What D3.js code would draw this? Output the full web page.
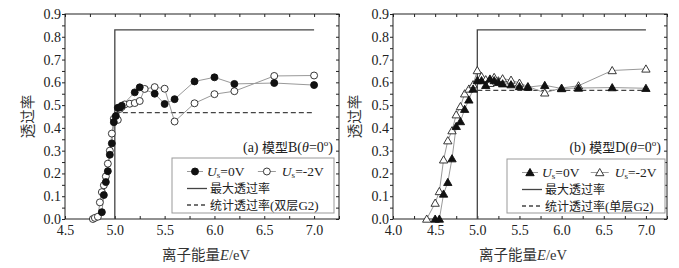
<!DOCTYPE html>
<html><head><meta charset="utf-8">
<script src="https://cdn.jsdelivr.net/npm/d3@7/dist/d3.min.js"></script>
<style>
body{margin:0;background:#fff;}
text{font-family:"Liberation Serif","Times New Roman",serif;}
.cjk{font-family:"Noto Sans CJK SC",sans-serif;}
</style></head>
<body>
<svg id="chart" width="679" height="268"></svg>
<script>
// Panel (a): 模型B
const aE_0V = [4.87,4.89,4.91,4.93,4.95,4.97,4.99,5.01,5.03,5.05,5.07,5.20,5.25,5.40,5.50,5.60,5.80,6.00,6.20,6.60,7.00];
const aT_0V = [0.03,0.105,0.162,0.21,0.282,0.332,0.425,0.452,0.488,0.49,0.497,0.556,0.578,0.55,0.505,0.526,0.604,0.622,0.593,0.597,0.588];
const aE_2V = [4.78,4.80,4.83,4.85,4.87,4.89,4.91,4.93,4.95,4.97,4.99,5.01,5.03,5.05,5.07,5.10,5.15,5.20,5.25,5.30,5.40,5.50,5.60,5.80,6.00,6.20,6.60,7.00];
const aT_2V = [0.0,0.005,0.01,0.073,0.118,0.148,0.187,0.243,0.30,0.375,0.44,0.445,0.435,0.483,0.492,0.503,0.506,0.509,0.518,0.571,0.579,0.572,0.428,0.508,0.548,0.561,0.628,0.63];
const aMaxT = 0.83, aStatT = 0.467;
// Panel (b): 模型D
const bE_0V = [4.50,4.55,4.60,4.65,4.70,4.75,4.80,4.85,4.90,4.95,5.00,5.05,5.10,5.15,5.20,5.25,5.30,5.40,5.50,5.60,5.80,6.00,6.20,6.60,7.00];
const bT_0V = [0.0,0.0,0.11,0.161,0.265,0.407,0.428,0.482,0.523,0.571,0.608,0.608,0.587,0.615,0.608,0.60,0.594,0.59,0.582,0.579,0.587,0.573,0.575,0.577,0.574];
const bE_2V = [4.40,4.50,4.55,4.60,4.65,4.70,4.75,4.80,4.85,4.90,4.95,5.00,5.05,5.10,5.15,5.20,5.25,5.30,5.40,5.50,5.60,5.80,6.00,6.20,6.60,7.00];
const bT_2V = [0.0,0.07,0.121,0.26,0.344,0.388,0.458,0.494,0.55,0.571,0.59,0.652,0.626,0.612,0.596,0.622,0.607,0.616,0.61,0.597,0.582,0.554,0.575,0.585,0.652,0.659];
const bMaxT = 0.83, bStatT = 0.565;
const yTicks = [0.0,0.1,0.2,0.3,0.4,0.5,0.6,0.7,0.8,0.9];
const aXTicks = [4.5,5.0,5.5,6.0,6.5,7.0];
const bXTicks = [4.0,4.5,5.0,5.5,6.0,6.5,7.0];

const svg = d3.select("#chart");

function panel(o){
  const g = svg.append("g");
  const x = d3.scaleLinear().domain(o.xd).range([o.l,o.r]);
  const y = d3.scaleLinear().domain([0,0.9]).range([o.b,o.t]);
  const ptsA = o.e0.map((e,i)=>[e,o.t0[i]]);
  const ptsB = o.e2.map((e,i)=>[e,o.t2[i]]);
  const line = d3.line().x(d=>x(d[0])).y(d=>y(d[1]));
  const xMinor = d3.range(o.xd[0], 7.2501, 0.25);
  const yMinor = d3.range(0, 0.9001, 0.05);
  const bottom = g.append("g").attr("transform",`translate(0,${o.b})`)
    .call(d3.axisBottom(x).tickValues(o.xticks).tickFormat(d3.format(".1f")).tickSizeInner(0).tickSizeOuter(0).tickPadding(6));
  bottom.select(".domain").remove();
  bottom.selectAll("text").attr("font-size",14).attr("font-family","Liberation Serif").attr("fill","#222");
  const bt = g.append("g").attr("transform",`translate(0,${o.b})`).call(d3.axisTop(x).tickValues(xMinor).tickFormat("").tickSizeInner(3).tickSizeOuter(0));
  bt.select(".domain").remove();
  const tt = g.append("g").attr("transform",`translate(0,${o.t})`).call(d3.axisBottom(x).tickValues(xMinor).tickFormat("").tickSizeInner(3).tickSizeOuter(0));
  tt.select(".domain").remove();
  const left = g.append("g").attr("transform",`translate(${o.l},0)`)
    .call(d3.axisLeft(y).tickValues(yTicks).tickFormat(d3.format(".1f")).tickSizeInner(0).tickSizeOuter(0).tickPadding(4));
  left.select(".domain").remove();
  left.selectAll("text").attr("font-size",14).attr("font-family","Liberation Serif").attr("fill","#222");
  const lt = g.append("g").attr("transform",`translate(${o.l},0)`).call(d3.axisLeft(y).tickValues(yMinor).tickFormat("").tickSizeInner(3).tickSizeOuter(0));
  lt.select(".domain").remove();
  const rt = g.append("g").attr("transform",`translate(${o.r},0)`).call(d3.axisLeft(y).tickValues(yMinor).tickFormat("").tickSizeInner(3).tickSizeOuter(0));
  rt.select(".domain").remove();
  g.selectAll(".tick line").attr("stroke","#222");
  g.append("rect").attr("x",o.l).attr("y",o.t).attr("width",o.r-o.l).attr("height",o.b-o.t)
    .attr("fill","none").attr("stroke","#222").attr("stroke-width",1);
  g.append("path").attr("d",line([[5.0,0],[5.0,o.maxT],[7.0,o.maxT]]))
    .attr("fill","none").attr("stroke","#444").attr("stroke-width",1.3);
  g.append("path").attr("d",line([[5.0,o.statT],[7.0,o.statT]]))
    .attr("fill","none").attr("stroke","#444").attr("stroke-width",1.3).attr("stroke-dasharray","5,3");
  g.append("path").attr("d",line(ptsB)).attr("fill","none").attr("stroke","#999").attr("stroke-width",1);
  g.append("path").attr("d",line(ptsA)).attr("fill","none").attr("stroke","#999").attr("stroke-width",1);
  const sym = o.tri ? d3.symbol().type(d3.symbolTriangle).size(30) : d3.symbol().type(d3.symbolCircle).size(38);
  const dy = o.tri ? 0.8 : 0;
  g.selectAll(".mB").data(ptsB).join("path").attr("d",sym)
    .attr("transform",d=>`translate(${x(d[0])},${y(d[1])+dy})`)
    .attr("fill","#fff").attr("stroke","#222").attr("stroke-width",0.9);
  g.selectAll(".mA").data(ptsA).join("path").attr("d",sym)
    .attr("transform",d=>`translate(${x(d[0])},${y(d[1])+dy})`)
    .attr("fill","#111").attr("stroke","#111").attr("stroke-width",0.9);
  g.append("text").attr("class","cjk").attr("transform",`translate(${o.yTitleX},${(o.t+o.b)/2}) rotate(-90)`)
    .attr("text-anchor","middle").attr("dy","0.35em").attr("font-size",14.5).attr("fill","#333").text("透过率");
  const xtitle = g.append("text").attr("x",(o.l+o.r)/2+o.xTitleDx).attr("y",260).attr("text-anchor","middle").attr("font-size",14.5).attr("fill","#333");
  xtitle.append("tspan").attr("class","cjk").text("离子能量");
  xtitle.append("tspan").attr("font-style","italic").attr("font-family","Liberation Serif").text("E");
  xtitle.append("tspan").attr("font-family","Liberation Serif").text("/eV");
  const an = g.append("text").attr("x",o.r-6).attr("y",152).attr("text-anchor","end").attr("font-size",14).attr("fill","#222");
  an.append("tspan").text(o.tag+" ");
  an.append("tspan").attr("class","cjk").attr("font-size",13).text("模型");
  an.append("tspan").text(o.model+"(");
  an.append("tspan").attr("font-style","italic").text("θ");
  an.append("tspan").text("=0");
  an.append("tspan").attr("font-size",9).attr("dy",-6).text("o");
  an.append("tspan").attr("dy",6).text(")");
  const L = o.leg;
  g.append("rect").attr("x",L.x).attr("y",L.y).attr("width",L.w).attr("height",L.h)
    .attr("fill","#fff").attr("stroke","#999").attr("stroke-width",1);
  const r1 = L.y+13.5, r2 = L.y+30.5, r3 = L.y+47;
  const lx = L.x+15;
  g.append("line").attr("x1",lx).attr("x2",lx+16).attr("y1",r1).attr("y2",r1).attr("stroke","#999");
  g.append("path").attr("d",sym).attr("transform",`translate(${lx+8},${r1+dy})`).attr("fill","#111").attr("stroke","#111");
  const t1 = g.append("text").attr("x",lx+20).attr("y",r1+4.5).attr("font-size",13.5).attr("fill","#222");
  t1.append("tspan").attr("font-style","italic").text("U");
  t1.append("tspan").attr("font-size",9).attr("dy",2).text("s");
  t1.append("tspan").attr("dy",-2).text("=0V");
  const lx2 = L.x+L.w*0.53;
  g.append("line").attr("x1",lx2).attr("x2",lx2+18).attr("y1",r1).attr("y2",r1).attr("stroke","#999");
  g.append("path").attr("d",sym).attr("transform",`translate(${lx2+9},${r1+dy})`).attr("fill","#fff").attr("stroke","#222").attr("stroke-width",0.9);
  const t2 = g.append("text").attr("x",lx2+24).attr("y",r1+4.5).attr("font-size",13.5).attr("fill","#222");
  t2.append("tspan").attr("font-style","italic").text("U");
  t2.append("tspan").attr("font-size",9).attr("dy",2).text("s");
  t2.append("tspan").attr("dy",-2).text("=-2V");
  g.append("line").attr("x1",lx).attr("x2",lx+20).attr("y1",r2).attr("y2",r2).attr("stroke","#444").attr("stroke-width",1.3);
  g.append("text").attr("class","cjk").attr("x",lx+23).attr("y",r2+4.5).attr("font-size",12).attr("fill","#222").text("最大透过率");
  g.append("line").attr("x1",lx).attr("x2",lx+20).attr("y1",r3).attr("y2",r3).attr("stroke","#444").attr("stroke-width",1.3).attr("stroke-dasharray","4,3");
  const t3 = g.append("text").attr("x",lx+23).attr("y",r3+4.5).attr("font-size",12).attr("fill","#222");
  t3.append("tspan").attr("class","cjk").text("统计透过率");
  t3.append("tspan").attr("font-size",13).text("(");
  t3.append("tspan").attr("class","cjk").text(o.layer);
  t3.append("tspan").attr("font-size",13).text("G2)");
}

panel({xd:[4.5,7.25], xticks:aXTicks, l:65, r:339, t:14, b:219, e0:aE_0V, t0:aT_0V, e2:aE_2V, t2:aT_2V,
  maxT:aMaxT, statT:aStatT, tri:false, yTitleX:28, xTitleDx:4, tag:"(a)", model:"B", layer:"双层",
  leg:{x:172,y:158,w:162,h:55}});
panel({xd:[4.0,7.25], xticks:bXTicks, l:393, r:667, t:14, b:219, e0:bE_0V, t0:bT_0V, e2:bE_2V, t2:bT_2V,
  maxT:bMaxT, statT:bStatT, tri:true, yTitleX:355, xTitleDx:-7, tag:"(b)", model:"D", layer:"单层",
  leg:{x:507,y:159,w:158,h:54}});
</script>
</body></html>
